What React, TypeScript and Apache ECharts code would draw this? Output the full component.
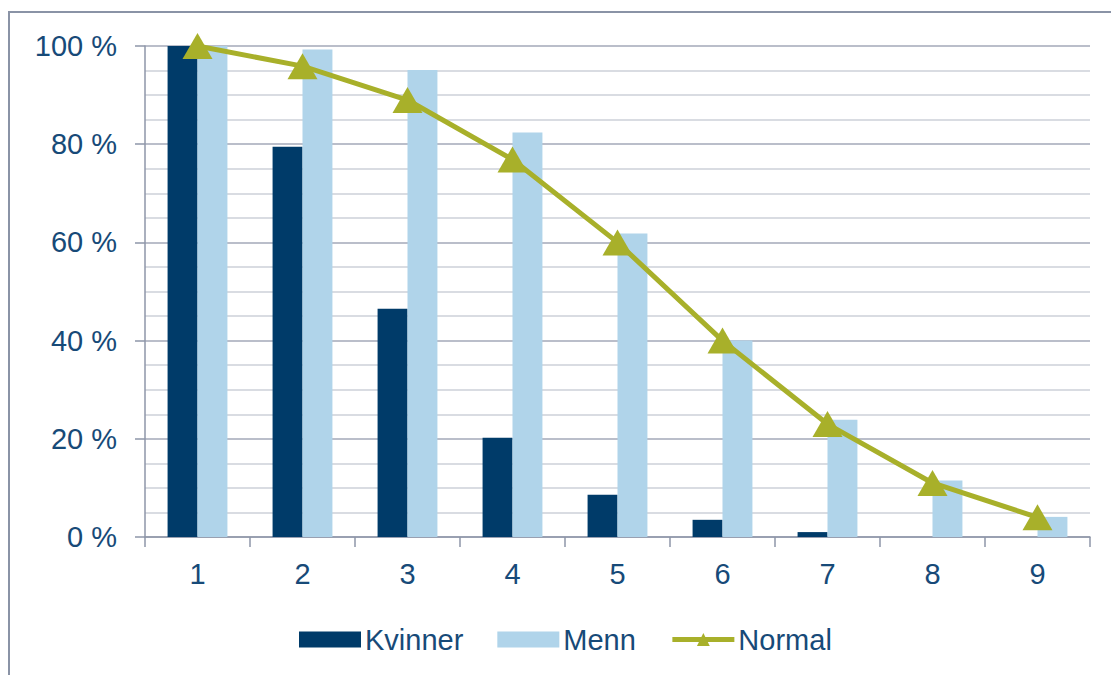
import React, { useEffect, useRef } from "react";
import * as echarts from "echarts";

const categories = ["1", "2", "3", "4", "5", "6", "7", "8", "9"];
const kvinner = [100, 79.5, 46.5, 20.2, 8.6, 3.5, 1.0, 0, 0];
const menn = [100, 99.3, 95.1, 82.4, 61.8, 40.0, 23.9, 11.5, 4.1];
const normal = [100, 95.9, 89.0, 76.9, 60.0, 40.0, 23.0, 11.0, 4.0];
const yTicks = { min: 0, max: 100, interval: 20 };

const TEXT = "#174a78";
const AXIS = "#8e96a8";
const FS = 29;

export default function App() {
  const ref = useRef<HTMLDivElement>(null);
  useEffect(() => {
    document.body.style.margin = "0";
    const chart = echarts.init(ref.current!, null, { renderer: "svg" });
    chart.setOption({
      animation: false,
      backgroundColor: "#ffffff",
      textStyle: { fontFamily: "Liberation Sans, Arial, sans-serif" },
      graphic: [
        {
          type: "rect",
          shape: { x: 9, y: 12, width: 1120, height: 700 },
          style: { fill: "none", stroke: "#8a93a6", lineWidth: 2 },
          silent: true,
        },
      ],
      grid: { left: 145, right: 21, top: 46, bottom: 138 },
      legend: {
        top: 620,
        left: 294,
        itemWidth: 62,
        itemHeight: 16,
        itemGap: 34,
        textStyle: { color: TEXT, fontSize: FS, padding: [0, 0, 0, -1] },
        data: [
          { name: "Kvinner", icon: "rect" },
          { name: "Menn", icon: "rect" },
          { name: "Normal", lineStyle: { width: 5 } },
        ],
      },
      xAxis: {
        type: "category",
        data: categories,
        boundaryGap: true,
        axisLine: { lineStyle: { color: AXIS, width: 1.5 } },
        axisTick: { show: true, interval: 0, length: 10, lineStyle: { color: AXIS, width: 1.5 } },
        axisLabel: { color: TEXT, fontSize: FS, margin: 22 },
      },
      yAxis: {
        type: "value",
        min: yTicks.min,
        max: yTicks.max,
        interval: yTicks.interval,
        axisLine: { show: true, lineStyle: { color: AXIS, width: 1.5 } },
        axisTick: { show: true, length: 10, lineStyle: { color: AXIS, width: 1.5 } },
        axisLabel: { color: TEXT, fontSize: FS, margin: 28, formatter: "{value} %" },
        splitLine: { show: true, lineStyle: { color: "#a3a9b8", width: 1.5 } },
        minorTick: { show: false, splitNumber: 4 },
        minorSplitLine: { show: true, lineStyle: { color: "#cdd0d9", width: 1.5 } },
      },
      series: [
        {
          name: "Kvinner",
          type: "bar",
          data: kvinner,
          barGap: "0%",
          barCategoryGap: "43%",
          itemStyle: { color: "#003b69" },
        },
        {
          name: "Menn",
          type: "bar",
          data: menn,
          itemStyle: { color: "#b0d4ea" },
        },
        {
          name: "Normal",
          type: "line",
          data: normal,
          symbol: "triangle",
          symbolSize: [30, 26],
          lineStyle: { color: "#a8b02a", width: 5 },
          itemStyle: { color: "#a8b02a" },
          z: 5,
        },
      ],
    });
    return () => chart.dispose();
  }, []);
  return <div ref={ref} style={{ width: 1111, height: 675 }} />;
}
